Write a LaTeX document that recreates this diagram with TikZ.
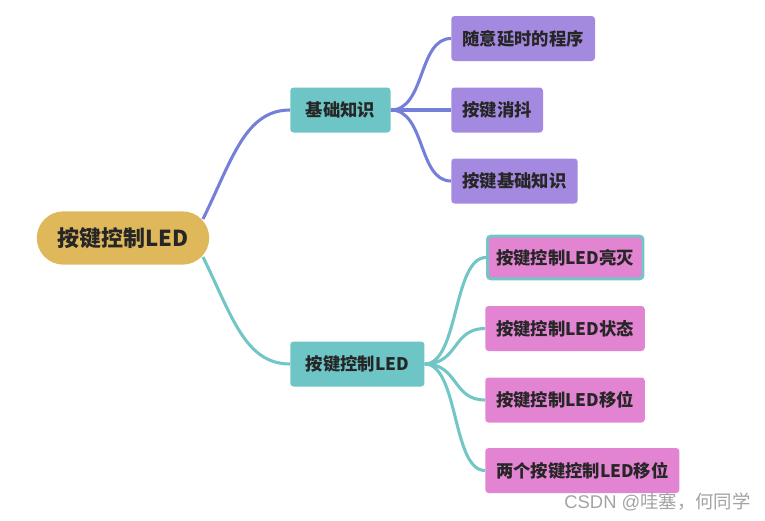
\documentclass[tikz,border=0pt]{standalone}
\usepackage{fontspec}
\newfontfamily\cjk{Noto Sans CJK SC}
\newfontfamily\wmlat{Liberation Sans}
\definecolor{rootc}{HTML}{E0B85C}
\definecolor{tealc}{HTML}{6DC5C5}
\definecolor{purpc}{HTML}{A38AE0}
\definecolor{pinkc}{HTML}{E384D3}
\definecolor{bluel}{HTML}{7480D8}
\definecolor{teall}{HTML}{72C6C6}
\definecolor{txt}{HTML}{262626}
\tikzset{
  rootbox/.style={fill=rootc, rounded corners=20pt, minimum height=40pt, inner xsep=15.5pt, font=\cjk\bfseries\fontsize{16.5}{18}\selectfont, text=txt},
  midbox/.style={fill=tealc, rounded corners=2.5pt, minimum height=33.75pt, inner xsep=11.6pt, font=\cjk\bfseries\fontsize{13}{15}\selectfont, text=txt, anchor=west},
  purpbox/.style={fill=purpc, rounded corners=2.5pt, minimum height=33.75pt, inner xsep=8.4pt, font=\cjk\bfseries\fontsize{13}{15}\selectfont, text=txt, anchor=west},
  pinkbox/.style={fill=pinkc, rounded corners=2.5pt, minimum height=33.75pt, inner xsep=8.1pt, font=\cjk\bfseries\fontsize{13}{15}\selectfont, text=txt, anchor=west},
  bconn/.style={draw=bluel, line width=2.3pt},
  tconn/.style={draw=teall, line width=2.3pt},
}
\begin{document}
\begin{tikzpicture}[x=0.75pt,y=-0.75pt]
\useasboundingbox (0,0) rectangle (765,521);
% nodes
\node[rootbox] (root) at (123,238) {按键控制LED};
\node[midbox] (b1) at (290,110) {基础知识};
\node[midbox] (b2) at (290,364) {按键控制LED};
\node[purpbox] (p1) at (451,38.5) {随意延时的程序};
\node[purpbox] (p2) at (451,110) {按键消抖};
\node[purpbox] (p3) at (451,181) {按键基础知识};
\node[pinkbox, draw=teall, line width=2.2pt, inner xsep=6.6pt, minimum height=32pt] (k1) at (486,257.5) {按键控制LED亮灭};
\node[pinkbox] (k2) at (485,328.5) {按键控制LED状态};
\node[pinkbox] (k3) at (485,400) {按键控制LED移位};
\node[pinkbox] (k4) at (485,470.5) {两个按键控制LED移位};
\coordinate (r1) at (203,219);
\coordinate (r2) at (203,257);
% connectors
\draw[bconn] (r1) .. controls (232,160) and (245,110) .. (b1.west);
\draw[tconn] (r2) .. controls (232,316) and (245,364) .. (b2.west);
\foreach \t in {p1,p2,p3}{
  \draw[bconn] (b1.east) .. controls ([xshift=26pt]b1.east) and ([xshift=-24.75pt]\t.west) .. (\t.west);
}
\foreach \t in {k1,k2,k3,k4}{
  \draw[tconn] (b2.east) .. controls ([xshift=25.5pt]b2.east) and ([xshift=-24.75pt]\t.west) .. (\t.west);
}
\node[font=\fontsize{13.8}{16}\selectfont, text=black!36, anchor=east, inner sep=0pt] (wm) at (751,502) {{\wmlat CSDN @}{\cjk 哇塞，何同学}};
\end{tikzpicture}
\end{document}
